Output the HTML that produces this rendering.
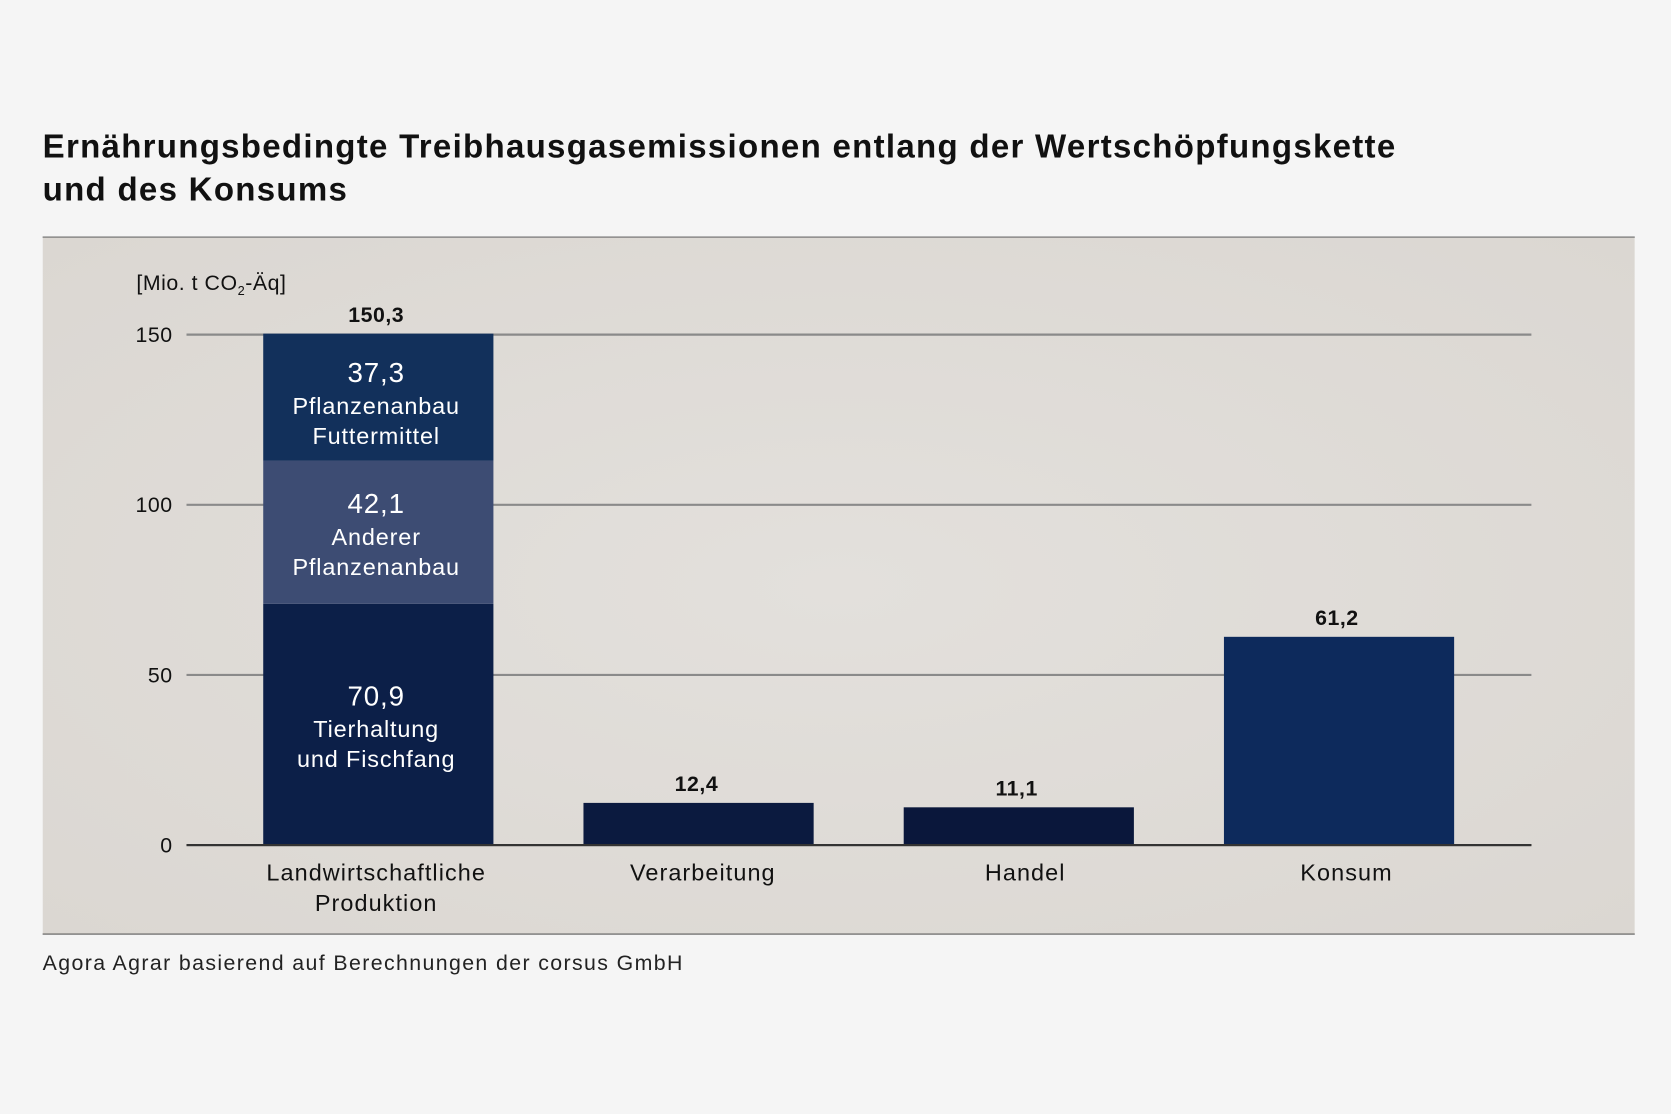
<!DOCTYPE html>
<html><head><meta charset="utf-8"><style>
html,body{margin:0;padding:0;background:#f5f5f5;width:1671px;height:1114px;overflow:hidden}
#w{width:1568px;height:1045px;transform:scale(1.06569);transform-origin:0 0;position:relative;font-family:"Liberation Sans",sans-serif;color:#111}
.t{position:absolute;left:40px;font-size:31px;font-weight:bold;letter-spacing:1.2px;color:#111;line-height:40px}
</style></head><body>
<div id="w">
<div class="t" style="top:118px">Ernährungsbedingte Treibhausgasemissionen entlang der Wertschöpfungskette<br>und des Konsums</div>
<div style="position:absolute;left:40px;top:222px;width:1494px;height:1px;background:#555"></div>
<svg id="c" style="position:absolute;left:40px;top:223px" width="1494" height="654">
<defs><radialGradient id="bg" cx="50%" cy="50%" r="70%"><stop offset="0" stop-color="#e3e0dc"/><stop offset="1" stop-color="#dbd7d2"/></radialGradient></defs>
<rect width="1494" height="654" fill="url(#bg)"/>
</svg>
<div style="position:absolute;left:40px;top:876px;width:1494px;height:1px;background:#555"></div>
<div style="position:absolute;left:40px;top:893px;font-size:20px;color:#222;letter-spacing:1.3px">Agora Agrar basierend auf Berechnungen der corsus GmbH</div>
</div>
<script>
const categories=["Landwirtschaftliche\nProduktion","Verarbeitung","Handel","Konsum"];
const totals=[150.3,12.4,11.1,61.2];
const stackValues=[70.9,42.1,37.3];
const stackLabels=["Tierhaltung\nund Fischfang","Anderer\nPflanzenanbau","Pflanzenanbau\nFuttermittel"];
const ticks=[0,50,100,150];
const fmt=v=>v.toFixed(1).replace('.',',');
const NS="http://www.w3.org/2000/svg";
const svg=document.getElementById('c');
const y=v=>570-v*(479/150);
const barX=i=>207+i*300.5;
const bw=216;
function el(t,a,p){const e=document.createElementNS(NS,t);for(const k in a)e.setAttribute(k,a[k]);(p||svg).appendChild(e);return e;}
function txt(s,x,yy,o){const e=el('text',Object.assign({x:x,y:yy,'font-family':'Liberation Sans, sans-serif','font-size':21,'text-anchor':'middle',fill:'#111','letter-spacing':'0.8'},o||{}));
 const lines=s.split('\n');lines.forEach((l,k)=>{const t=el('tspan',{x:x,dy:k?(o&&o.lh||29):0},e);t.textContent=l;});return e;}
const yl=txt("[Mio. t CO",88,49,{'text-anchor':'start','font-size':20,'letter-spacing':'0.5'});

const s2=el('tspan',{'font-size':12,dy:5},yl);s2.textContent="2";
const s3=el('tspan',{dy:-5},yl);s3.textContent="-Äq]";
ticks.forEach(t=>{
 const l=el('line',{x1:135,x2:1397,y1:y(t),y2:y(t),stroke:t?'#8a8a8a':'#333','stroke-width':2});
 
 const tl=txt(String(t),122,y(t)+7,{'text-anchor':'end','font-size':20,'letter-spacing':'0.5'});
 
});
const stackColors=['#0c1f48','#3d4c73','#12305b'];
let acc=0;
stackValues.forEach((v,k)=>{
 const top=k===stackValues.length-1?totals[0]:acc+v;
 const r=el('rect',{x:barX(0),y:y(top),width:bw,height:y(acc)-y(top),fill:stackColors[k]});
 
 const cy=(y(acc)+y(top))/2+(k===2?8:4);
 const vt=txt(fmt(v),barX(0)+bw/2-2,cy-22,{fill:'#fff','font-size':26});
 
 const lt=txt(stackLabels[k],barX(0)+bw/2-2,cy+8,{fill:'#fff','font-size':22,lh:28});
 
 acc+=v;
});
const cols=['#0c1f48','#0b1a3f','#0a173b','#0d2a5c'];
const catShift=[-2,4,6,7];
totals.forEach((v,i)=>{
 if(i>0){const r=el('rect',{x:barX(i),y:y(v),width:bw,height:y(0)-y(v),fill:cols[i]});
 }
 const t=txt(fmt(v),barX(i)+bw/2-2,y(v)-11,{'font-weight':'bold','font-size':20,'letter-spacing':'0.5'});
 
 const c=txt(categories[i],barX(i)+bw/2+catShift[i],603,{'font-size':22,lh:29,'letter-spacing':'1'});
 
});
const ax=el('line',{x1:135,x2:1397,y1:y(0),y2:y(0),stroke:'#333','stroke-width':2});

</script>
</body></html>
